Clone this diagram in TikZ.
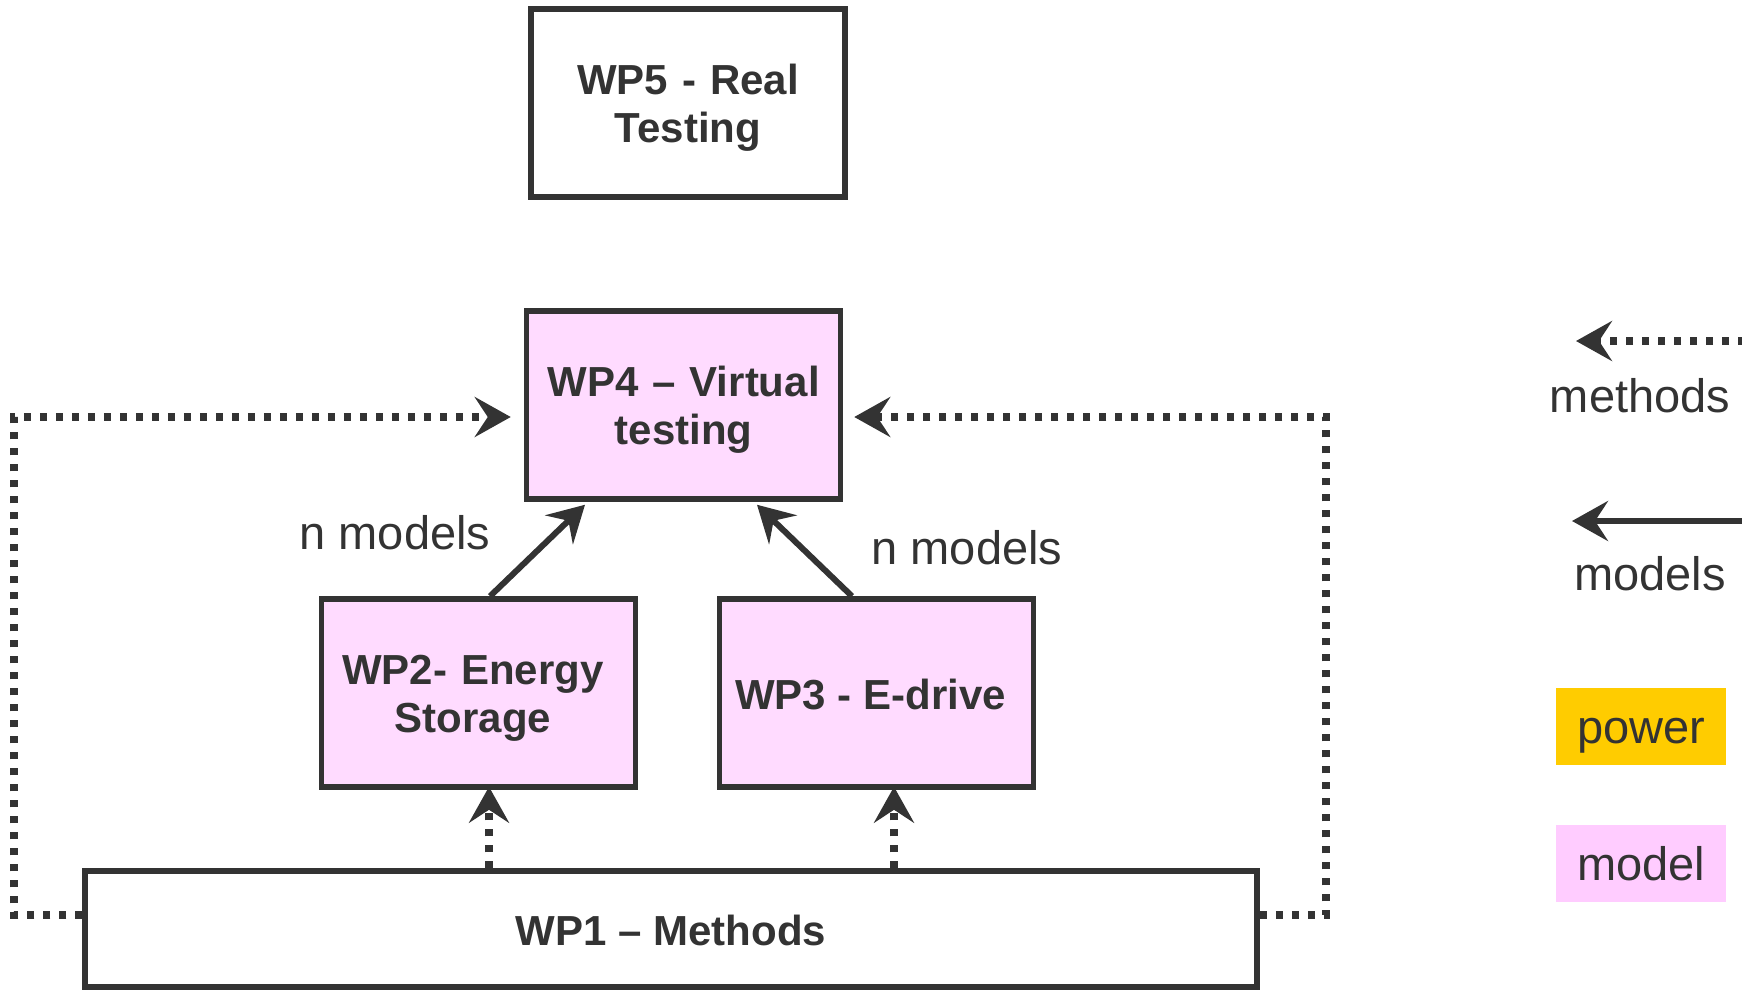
\documentclass[tikz,border=0pt]{standalone}
\usepackage{fontspec}
\setmainfont{Liberation Sans}
\usetikzlibrary{arrows.meta}
\definecolor{ink}{HTML}{333333}
\definecolor{wpfill}{HTML}{FFDBFF}
\definecolor{keypink}{HTML}{FFCCFF}
\definecolor{keygold}{HTML}{FFCC00}

\begin{document}
\begin{tikzpicture}[x=1pt,y=-1pt,
  box/.style={draw=ink, line width=5.5pt, rectangle, inner sep=0pt,
    minimum width=314pt, minimum height=188pt, text=ink,
    font=\fontsize{42}{48.5}\selectfont\bfseries, align=center},
  twoline/.style={text width=310pt, text height=0pt, text depth=17.5pt},
  oneline/.style={text height=32pt, text depth=0pt},
  wp/.style={box, fill=wpfill},
  tip/.style={-{Stealth[length=36pt,width=40pt,inset=13pt]}},
  modelarrow/.style={draw=ink, line width=6pt, tip},
  methodarrow/.style={draw=ink, line width=7.5pt, dash pattern=on 7.5pt off 8.5pt, tip},
  lbl/.style={text=ink, font=\fontsize{47}{54}\selectfont, inner sep=0pt, anchor=base},
  keybox/.style={rectangle, minimum width=170pt, minimum height=77pt, inner sep=0pt,
    text=ink, font=\fontsize{47}{54}\selectfont, text height=34pt, text depth=0pt}
]
\useasboundingbox (0,0) rectangle (1742,990);

% work packages
\node[box, fill=white, twoline] (wp5) at (688,103) {WP5 - Real\\Testing};
\node[wp, twoline] (wp4) at (683.5,405) {WP4 – Virtual\\testing};
\node[wp, twoline] (wp2) at (478.5,693) {WP2- Energy\rule{11pt}{0pt}\\Storage\rule{11pt}{0pt}};
\node[wp, oneline] (wp3) at (876.5,693) {WP3 - E-drive\rule{12pt}{0pt}};
\node[box, fill=white, oneline, minimum width=1172pt, minimum height=116pt] (wp1) at (671,929) {WP1 – Methods};

% models flowing into virtual testing
\draw[modelarrow] ([xshift=11.5pt]wp2.north) -- ([xshift=-98.5pt,yshift=-3pt]wp4.south);
\draw[modelarrow] ([xshift=-24.5pt]wp3.north) -- ([xshift=73.5pt,yshift=-3pt]wp4.south);
\node[lbl] (nm2) at (395,549) {n models};
\node[lbl] (nm3) at (967,564) {n models};

% methods feeding the other packages
\coordinate (ml1) at (14,915);
\coordinate (ml2) at (14,417);
\coordinate (mr1) at (1326,915);
\coordinate (mr2) at (1326,417);
\draw[methodarrow] ([yshift=14pt]wp1.west) -- (ml1) -- (ml2) -- ([xshift=-13pt,yshift=-12pt]wp4.west);
\draw[methodarrow] ([yshift=14pt]wp1.east) -- (mr1) -- (mr2) -- ([xshift=11pt,yshift=-12pt]wp4.east);
\draw[methodarrow] ([xshift=-182pt]wp1.north) -- ([xshift=10.5pt,yshift=3pt]wp2.south);
\draw[methodarrow] ([xshift=223pt]wp1.north) -- ([xshift=17.5pt,yshift=3pt]wp3.south);

% key
\coordinate (kmA) at (1745,341);
\coordinate (kmB) at (1576,341);
\draw[methodarrow] (kmA) -- (kmB);
\node[lbl] (kmeth) at (1640,412) {methods};
\coordinate (kdA) at (1745,521);
\coordinate (kdB) at (1572,521);
\draw[modelarrow] (kdA) -- (kdB);
\node[lbl] (kmod) at (1650,590) {models};
\node[keybox, fill=keygold] (kpow) at (1641,726.5) {power};
\node[keybox, fill=keypink] (kmdl) at (1641,863.5) {model};
\end{tikzpicture}
\end{document}
